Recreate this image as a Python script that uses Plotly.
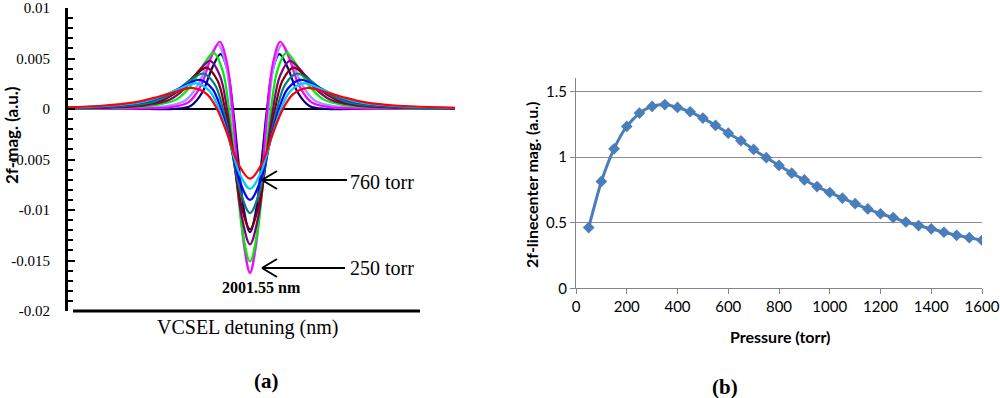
import plotly.graph_objects as go

# ---------------- Panel (a): 2f line shapes vs VCSEL detuning ----------------
# detuning in arbitrary units (0 = line centre, 2001.55 nm)
navy_x = [-182, -102, -76.5, -59.5, -47.6, -37.4, -29.4, -22.1, -17, -11.9, -5.95, 0,
          5.95, 11.9, 17, 22.1, 29.4, 37.4, 47.6, 59.5, 76.5, 102, 205]
navy_y = [0, 0, 0.00001, 0.0003, 0.00166, 0.00417, 0.00544, 0.00362, 0, -0.00487, -0.01007, -0.0122,
          -0.01007, -0.00487, 0, 0.00362, 0.00544, 0.00417, 0.00166, 0.0003, 0.00001, 0, 0]

lavender_x = [-182, -148, -111, -83.3, -64.8, -51.8, -40.7, -32, -24, -18.5, -13, -6.5, 0,
              6.5, 13, 18.5, 24, 32, 40.7, 51.8, 64.8, 83.3, 111, 148, 205]
lavender_y = [0.00002, 0.00005, 0.00011, 0.00029, 0.00084, 0.00244, 0.00503, 0.00638, 0.0043, 0, -0.00616, -0.01324, -0.0163,
              -0.01324, -0.00616, 0, 0.0043, 0.00638, 0.00503, 0.00244, 0.00084, 0.00029, 0.00011, 0.00005, 0.00001]

magenta_x = [-182, -140, -105, -78.8, -61.3, -49, -38.5, -30.3, -22.8, -17.5, -12.3, -6.1, 0,
             6.1, 12.3, 17.5, 22.8, 30.3, 38.5, 49, 61.3, 78.8, 105, 140, 205]
magenta_y = [0.00001, 0.00003, 0.00007, 0.00019, 0.00068, 0.00234, 0.00519, 0.00666, 0.00446, 0, -0.00625, -0.01323, -0.0162,
             -0.01323, -0.00625, 0, 0.00446, 0.00666, 0.00519, 0.00234, 0.00068, 0.00019, 0.00007, 0.00003, 0.00001]

green_x = [-182, -168, -126, -94.5, -73.5, -58.8, -46.2, -36.3, -27.3, -21, -14.7, -7.4, 0,
           7.4, 14.7, 21, 27.3, 36.3, 46.2, 58.8, 73.5, 94.5, 126, 168, 205]
green_y = [0.00005, 0.00006, 0.00015, 0.00038, 0.00095, 0.00235, 0.00445, 0.00555, 0.00378, 0, -0.00557, -0.01218, -0.0151,
           -0.01218, -0.00557, 0, 0.00378, 0.00555, 0.00445, 0.00235, 0.00095, 0.00038, 0.00015, 0.00006, 0.00003]

purple_x = [-182, -138, -103.5, -80.5, -64.4, -50.6, -39.8, -29.9, -23, -16.1, -8.05, 0,
            8.05, 16.1, 23, 29.9, 39.8, 50.6, 64.4, 80.5, 103.5, 138, 205]
purple_y = [0.00006, 0.00015, 0.00039, 0.00092, 0.00212, 0.00386, 0.00477, 0.00326, 0, -0.00489, -0.01077, -0.0134,
            -0.01077, -0.00489, 0, 0.00326, 0.00477, 0.00386, 0.00212, 0.00092, 0.00039, 0.00015, 0.00005]

darkred_x = [-182, -150, -112.5, -87.5, -70, -55, -43.3, -32.5, -25, -17.5, -8.75, 0,
             8.75, 17.5, 25, 32.5, 43.3, 55, 70, 87.5, 112.5, 150, 205]
darkred_y = [0.00009, 0.00015, 0.00039, 0.00088, 0.00192, 0.00334, 0.0041, 0.00281, 0, -0.00428, -0.00953, -0.0119,
             -0.00953, -0.00428, 0, 0.00281, 0.0041, 0.00334, 0.00192, 0.00088, 0.00039, 0.00015, 0.00006]

teal_x = [-182, -162, -121.5, -94.5, -75.6, -59.4, -46.7, -35.1, -27, -18.9, -9.45, 0,
          9.45, 18.9, 27, 35.1, 46.7, 59.4, 75.6, 94.5, 121.5, 162, 205]
teal_y = [0.00011, 0.00014, 0.00035, 0.00078, 0.00167, 0.00287, 0.00351, 0.00241, 0, -0.00369, -0.00824, -0.0103,
          -0.00824, -0.00369, 0, 0.00241, 0.00351, 0.00287, 0.00167, 0.00078, 0.00035, 0.00014, 0.00007]

blue_x = [-182, -130.5, -101.5, -81.2, -63.8, -50.2, -37.7, -29, -20.3, -10.2, 0,
          10.2, 20.3, 29, 37.7, 50.2, 63.8, 81.2, 101.5, 130.5, 205]
blue_y = [0.00013, 0.00036, 0.00077, 0.00151, 0.0024, 0.00289, 0.002, 0, -0.00316, -0.00716, -0.0090,
          -0.00716, -0.00316, 0, 0.002, 0.00289, 0.0024, 0.00151, 0.00077, 0.00036, 0.00009]

cyan_x = [-182, -139.5, -108.5, -86.8, -68.2, -53.6, -40.3, -31, -21.7, -10.9, 0,
          10.9, 21.7, 31, 40.3, 53.6, 68.2, 86.8, 108.5, 139.5, 205]
cyan_y = [0.00013, 0.00032, 0.00068, 0.00132, 0.00211, 0.00253, 0.00176, 0, -0.00277, -0.00628, -0.0079,
          -0.00628, -0.00277, 0, 0.00176, 0.00253, 0.00211, 0.00132, 0.00068, 0.00032, 0.0001]

red_x = [-182, -148.5, -115.5, -92.4, -72.6, -57.1, -42.9, -33, -23.1, -11.6, 0,
         11.6, 23.1, 33, 42.9, 57.1, 72.6, 92.4, 115.5, 148.5, 205]
red_y = [0.00016, 0.00032, 0.00066, 0.00119, 0.00176, 0.00208, 0.00145, 0, -0.00237, -0.00545, -0.0069,
         -0.00545, -0.00237, 0, 0.00145, 0.00208, 0.00176, 0.00119, 0.00066, 0.00032, 0.00012]

left_ticks = [0.01, 0.005, 0, -0.005, -0.01, -0.015, -0.02]
left_ticktext = ["0.01", "0.005", "0", "-0.005", "-0.01", "-0.015", "-0.02"]

# ---------------- Panel (b): 2f line-centre magnitude vs pressure ----------------
pressure = [50, 100, 150, 200, 250, 300, 350, 400, 450, 500, 550, 600, 650, 700, 750, 800,
            850, 900, 950, 1000, 1050, 1100, 1150, 1200, 1250, 1300, 1350, 1400, 1450, 1500, 1550, 1600]
magnitude = [0.463, 0.814, 1.063, 1.233, 1.335, 1.386, 1.400, 1.378, 1.345, 1.297, 1.241, 1.182,
             1.124, 1.058, 0.995, 0.936, 0.877, 0.826, 0.775, 0.730, 0.687, 0.645, 0.605, 0.568,
             0.539, 0.505, 0.478, 0.453, 0.427, 0.404, 0.386, 0.366]
right_ticks = [0, 0.5, 1, 1.5]
right_ticktext = ["0", "0.5", "1", "1.5"]

curves = [
    (navy_x, navy_y, "#000080"),
    (lavender_x, lavender_y, "#9999FF"),
    (magenta_x, magenta_y, "#FF00FF"),
    (green_x, green_y, "#00EE00"),
    (purple_x, purple_y, "#800080"),
    (darkred_x, darkred_y, "#800000"),
    (teal_x, teal_y, "#008080"),
    (blue_x, blue_y, "#0000FF"),
    (cyan_x, cyan_y, "#00CCFF"),
    (red_x, red_y, "#FF0000"),
]

fig = go.Figure()
for xs, ys, col in curves:
    fig.add_trace(go.Scatter(x=xs, y=ys, mode="lines", xaxis="x", yaxis="y",
                             line=dict(color=col, width=2.2, shape="spline", smoothing=1.0),
                             hoverinfo="skip"))

fig.add_trace(go.Scatter(x=pressure, y=magnitude, mode="lines+markers", xaxis="x2", yaxis="y2",
                         line=dict(color="#4A7EBB", width=3, shape="spline", smoothing=0.6),
                         marker=dict(symbol="diamond", size=9, color="#4A7EBB")))

serif = "Liberation Serif, Times New Roman, serif"
sans = "Lato, Open Sans, sans-serif"

TOP = 8      # px of plot-area top
BOT = 311    # px of plot-area bottom
H = BOT - TOP

def py(p):
    return (BOT - p) / float(H)

fig.update_layout(
    width=1000, height=398,
    margin=dict(l=0, r=0, t=TOP, b=398 - BOT, autoexpand=False),
    plot_bgcolor="white", paper_bgcolor="white",
    showlegend=False,
    xaxis=dict(domain=[0.068, 0.455], range=[-182, 205], visible=False, fixedrange=True,
               automargin=False),
    yaxis=dict(domain=[0, 1], range=[-0.02, 0.01], anchor="x", automargin=False,
               showline=True, linecolor="black", linewidth=3,
               ticks="inside", ticklen=7, tickwidth=2, tickcolor="black",
               tickmode="array", tickvals=left_ticks, ticktext=left_ticktext,
               tickfont=dict(family=serif, size=15, color="black"),
               ticklabelstandoff=12, ticklabeloverflow="allow",
               minor=dict(ticks="inside", ticklen=5, tickwidth=2, tickcolor="black",
                          tickmode="linear", tick0=0, dtick=0.001, showgrid=False),
               showgrid=False, zeroline=True, zerolinecolor="black", zerolinewidth=2),
    xaxis2=dict(domain=[0.576, 0.982], range=[0, 1600], anchor="y2", automargin=False,
                showline=True, linecolor="#868686", linewidth=1,
                ticks="outside", ticklen=5, tickcolor="#868686", dtick=200,
                tickfont=dict(family=sans, size=15, color="black"),
                ticklabeloverflow="allow",
                showgrid=False, zeroline=False),
    yaxis2=dict(domain=[py(288.3), py(78.3)], range=[0, 1.6], anchor="x2", automargin=False,
                showline=True, linecolor="#868686", linewidth=1,
                ticks="outside", ticklen=5, tickcolor="#868686",
                tickmode="array", tickvals=right_ticks, ticktext=right_ticktext,
                tickfont=dict(family=sans, size=15, color="black"),
                showgrid=True, gridcolor="#8C8C8C", gridwidth=1, zeroline=False),
)

ann = [
    dict(text="<b>2f-mag. (a.u.)</b>", x=0.011, y=py(135), textangle=-90,
         font=dict(family=sans, size=17, color="black")),
    dict(text="760 torr", x=0.348, y=py(182), xanchor="left",
         font=dict(family=serif, size=20, color="black")),
    dict(text="250 torr", x=0.348, y=py(268), xanchor="left",
         font=dict(family=serif, size=20, color="black")),
    dict(text="<b>2001.55 nm</b>", x=0.261, y=py(287),
         font=dict(family=serif, size=16, color="black")),
    dict(text="VCSEL detuning (nm)", x=0.247, y=py(328),
         font=dict(family=serif, size=20, color="black")),
    dict(text="<b>(a)</b>", x=0.266, y=py(381),
         font=dict(family=serif, size=21, color="black")),
    dict(text="<b>2f-linecenter mag. (a.u.)</b>", x=0.531, y=py(185), textangle=-90,
         font=dict(family=sans, size=16, color="black")),
    dict(text="<b>Pressure (torr)</b>", x=0.780, y=py(336),
         font=dict(family=sans, size=16, color="black")),
    dict(text="<b>(b)</b>", x=0.725, y=py(387),
         font=dict(family=serif, size=21, color="black")),
]
for a in ann:
    a.update(xref="paper", yref="paper", showarrow=False, xanchor=a.get("xanchor", "center"),
             yanchor="middle")
    fig.add_annotation(**a)

shapes = [
    # bottom baseline of panel (a)
    dict(type="line", x0=0.073, x1=0.420, y0=py(311), y1=py(311), line=dict(color="black", width=3)),
    # arrow 760 torr
    dict(type="line", x0=0.262, x1=0.347, y0=py(180), y1=py(180), line=dict(color="black", width=2)),
    dict(type="line", x0=0.262, x1=0.277, y0=py(180), y1=py(171), line=dict(color="black", width=2)),
    dict(type="line", x0=0.262, x1=0.277, y0=py(180), y1=py(189), line=dict(color="black", width=2)),
    # arrow 250 torr
    dict(type="line", x0=0.262, x1=0.345, y0=py(268), y1=py(268), line=dict(color="black", width=2)),
    dict(type="line", x0=0.262, x1=0.277, y0=py(268), y1=py(259), line=dict(color="black", width=2)),
    dict(type="line", x0=0.262, x1=0.277, y0=py(268), y1=py(277), line=dict(color="black", width=2)),
]
for s in shapes:
    s.update(xref="paper", yref="paper")
    fig.add_shape(**s)

fig.write_html("out.html", config={"displayModeBar": False},
               post_script="document.body.style.margin='0';document.body.style.overflow='hidden';")
